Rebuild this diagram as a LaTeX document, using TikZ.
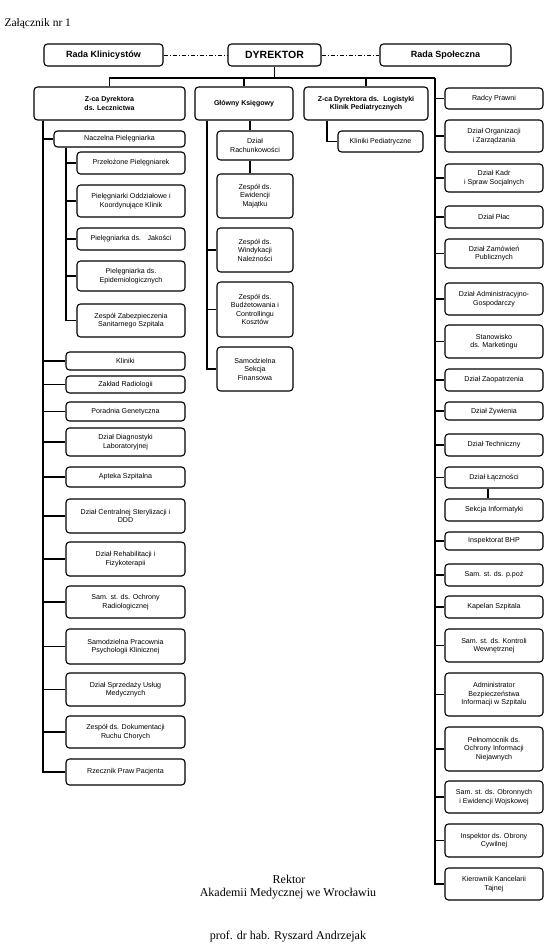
\documentclass[tikz,border=0pt]{standalone}
\usepackage{fontspec}
\setmainfont{Liberation Serif}
\setsansfont{Liberation Sans}
\usepackage{tikz}
\usetikzlibrary{positioning, calc}

\begin{document}
\begin{tikzpicture}[
    x=1pt, y=-1pt,
    box/.style={
        draw, line width=1.1pt, fill=white,
        rectangle, rounded corners=3.5pt,
        inner sep=1pt, align=center,
        font=\fontsize{7.1}{8.5}\selectfont\sffamily
    },
    lbox/.style={box, minimum width=119pt},
    sbox/.style={box, minimum width=108pt},
    mbox/.style={box, minimum width=76pt},
    rbox/.style={box, minimum width=98pt},
    head/.style={box, minimum height=33pt,
        font=\fontsize{7}{8.3}\selectfont\sffamily\bfseries},
    rada/.style={box, minimum height=22pt,
        font=\fontsize{9}{10}\selectfont\sffamily\bfseries},
    link/.style={line width=1.1pt},
    dashdot/.style={line width=1pt, dash pattern=on 4pt off 2pt on 1pt off 2pt},
]
\useasboundingbox (0,0) rectangle (550,951);

\node[anchor=west, font=\fontsize{11.5}{14}\selectfont] (zal) at (1,24) {Załącznik nr 1};

\node[rada, minimum width=119pt] (rklin) at (103.5,55) {Rada Klinicystów};
\node[rada, minimum width=93pt, font=\fontsize{10.5}{12}\selectfont\sffamily\bfseries] (dyr) at (274.5,55) {DYREKTOR};
\node[rada, minimum width=131pt] (rspol) at (445.5,55) {Rada Społeczna};

\node[head, minimum width=151pt] (zlecz) at (109.5,103.5) {Z-ca Dyrektora\\ds. Lecznictwa};
\node[head, minimum width=98pt] (gk) at (244,103.5) {Główny Księgowy};
\node[head, minimum width=124pt] (zlog) at (366,103.5) {Z-ca Dyrektora ds.~ Logistyki\\Klinik Pediatrycznych};

\coordinate (tr) at (435,78);
\coordinate (tl) at (43,0);
\coordinate (tn) at (66,0);
\coordinate (tg) at (207,0);
\coordinate (tk) at (327,0);

% pion lecznictwa
\node[box, minimum width=131pt, minimum height=16pt] (nacz) at (119.5,139) {Naczelna Pielęgniarka};
\node[sbox, minimum height=22pt] (przel) at (131,163) {Przełożone Pielęgniarek};
\node[sbox, minimum height=32pt] (oddz) at (131,201) {Pielęgniarki Oddziałowe i\\Koordynujące Klinik};
\node[sbox, minimum height=22pt] (jakosc) at (131,239) {Pielęgniarka ds.~~ Jakości};
\node[sbox, minimum height=30pt] (epid) at (131,276) {Pielęgniarka ds.\\Epidemiologicznych};
\node[sbox, minimum height=33pt] (sanit) at (131,320.5) {Zespół Zabezpieczenia\\Sanitarnego Szpitala};

\node[lbox, minimum height=18pt] (klin) at (125.5,361) {Kliniki};
\node[lbox, minimum height=17pt] (radiol) at (125.5,384.5) {Zakład Radiologii};
\node[lbox, minimum height=19pt] (genet) at (125.5,411.5) {Poradnia Genetyczna};
\node[lbox, minimum height=28pt] (diagn) at (125.5,442) {Dział Diagnostyki\\Laboratoryjnej};
\node[lbox, minimum height=20pt] (apteka) at (125.5,477) {Apteka Szpitalna};
\node[lbox, minimum height=34pt] (steryl) at (125.5,516) {Dział Centralnej Sterylizacji i\\DDD};
\node[lbox, minimum height=34pt] (rehab) at (125.5,559) {Dział Rehabilitacji i\\Fizykoterapii};
\node[lbox, minimum height=32pt] (ochrad) at (125.5,602) {Sam. st. ds. Ochrony\\Radiologicznej};
\node[lbox, minimum height=35pt] (psych) at (125.5,646.5) {Samodzielna Pracownia\\Psychologii Klinicznej};
\node[lbox, minimum height=33pt] (sprzed) at (125.5,689.5) {Dział Sprzedaży Usług\\Medycznych};
\node[lbox, minimum height=32pt] (dokum) at (125.5,732) {Zespół ds. Dokumentacji\\Ruchu Chorych};
\node[lbox, minimum height=26pt] (rzecz) at (125.5,772) {Rzecznik Praw Pacjenta};

% pion ksiegowego
\node[mbox, minimum height=29pt] (rach) at (255,145.5) {Dział\\Rachunkowości};
\node[mbox, minimum height=44pt] (ewid) at (255,196) {Zespół ds.\\Ewidencji\\Majątku};
\node[mbox, minimum height=44pt] (windyk) at (255,250) {Zespół ds.\\Windykacji\\Należności};
\node[mbox, minimum height=55pt] (budz) at (255,309.5) {Zespół ds.\\Budżetowania i\\Controllingu\\Kosztów};
\node[mbox, minimum height=44pt] (sekfin) at (255,369) {Samodzielna\\Sekcja\\Finansowa};

% pion logistyki
\node[box, minimum width=85pt, minimum height=21pt] (klped) at (380.5,141.5) {Kliniki Pediatryczne};

% komorki podlegle dyrektorowi
\node[rbox, minimum height=21pt] (radcy) at (494,98.5) {Radcy Prawni};
\node[rbox, minimum height=32pt] (organ) at (494,136) {Dział Organizacji\\i Zarządzania};
\node[rbox, minimum height=28pt] (kadr) at (494,178) {Dział Kadr\\i Spraw Socjalnych};
\node[rbox, minimum height=22pt] (plac) at (494,217) {Dział Płac};
\node[rbox, minimum height=29pt] (zamow) at (494,253.5) {Dział Zamówień\\Publicznych};
\node[rbox, minimum height=32pt] (admgos) at (494,299) {Dział Administracyjno-\\Gospodarczy};
\node[rbox, minimum height=33pt] (market) at (494,341.5) {Stanowisko\\ds. Marketingu};
\node[rbox, minimum height=22pt] (zaopat) at (494,380) {Dział Zaopatrzenia};
\node[rbox, minimum height=18pt] (zyw) at (494,411) {Dział Żywienia};
\node[rbox, minimum height=22pt] (techn) at (494,445) {Dział Techniczny};
\node[rbox, minimum height=21pt] (lacz) at (494,477.5) {Dział Łączności};
\node[rbox, minimum height=22pt] (sekinf) at (494,510) {Sekcja Informatyki};
\node[rbox, minimum height=18pt] (bhp) at (494,541) {Inspektorat BHP};
\node[rbox, minimum height=22pt] (ppoz) at (494,575) {Sam. st. ds. p.poż};
\node[rbox, minimum height=22pt] (kapel) at (494,607) {Kapelan Szpitala};
\node[rbox, minimum height=33pt] (kontr) at (494,645.5) {Sam. st. ds. Kontroli\\Wewnętrznej};
\node[rbox, minimum height=43pt] (abi) at (494,694.5) {Administrator\\Bezpieczeństwa\\Informacji w Szpitalu};
\node[rbox, minimum height=44pt] (pelnom) at (494,749) {Pełnomocnik ds.\\Ochrony Informacji\\Niejawnych};
\node[rbox, minimum height=32pt] (obron) at (494,797) {Sam. st. ds. Obronnych\\i Ewidencji Wojskowej};
\node[rbox, minimum height=33pt] (cywil) at (494,840.5) {Inspektor ds. Obrony\\Cywilnej};
\node[rbox, minimum height=32pt] (kanc) at (494,884) {Kierownik Kancelarii\\Tajnej};

\node[font=\fontsize{12}{14}\selectfont] (rektor) at (289,879) {Rektor};
\node[font=\fontsize{12}{14}\selectfont] (akad) at (288,894) {Akademii Medycznej we Wrocławiu};
\node[font=\fontsize{12}{14}\selectfont] (prof) at (288,937) {prof. dr hab. Ryszard Andrzejak};

\draw[dashdot] (rklin) -- (dyr);
\draw[dashdot] (dyr) -- (rspol);
\draw[link] (dyr.south) -- (dyr.south |- tr);
\draw[link] (zlecz.north) |- (tr);
\draw[link] (gk.north) -- (gk.north |- tr);
\draw[link] (zlog.north) -- (zlog.north |- tr);

\draw[link] (zlecz.south -| tl) |- (nacz.west);
\draw[link] (zlecz.south -| tl) |- (klin.west);
\draw[link] (zlecz.south -| tl) |- (radiol.west);
\draw[link] (zlecz.south -| tl) |- (genet.west);
\draw[link] (zlecz.south -| tl) |- (diagn.west);
\draw[link] (zlecz.south -| tl) |- (apteka.west);
\draw[link] (zlecz.south -| tl) |- (steryl.west);
\draw[link] (zlecz.south -| tl) |- (rehab.west);
\draw[link] (zlecz.south -| tl) |- (ochrad.west);
\draw[link] (zlecz.south -| tl) |- (psych.west);
\draw[link] (zlecz.south -| tl) |- (sprzed.west);
\draw[link] (zlecz.south -| tl) |- (dokum.west);
\draw[link] (zlecz.south -| tl) |- (rzecz.west);

\draw[link] (nacz.south -| tn) |- (przel.west);
\draw[link] (nacz.south -| tn) |- (oddz.west);
\draw[link] (nacz.south -| tn) |- (jakosc.west);
\draw[link] (nacz.south -| tn) |- (epid.west);
\draw[link] (nacz.south -| tn) |- (sanit.west);

\draw[link] ([xshift=-5pt]rach.north) -- ([xshift=-5pt]rach.north |- gk.south);
\draw[link] ([xshift=-5pt]rach.south) -- ([xshift=-5pt]ewid.north);
\draw[link] (gk.south -| tg) |- (windyk.west);
\draw[link] (gk.south -| tg) |- (budz.west);
\draw[link] (gk.south -| tg) |- (sekfin.west);

\draw[link] (zlog.south -| tk) |- (klped.west);

\draw[link] (tr) |- (radcy.west);
\draw[link] (tr) |- (organ.west);
\draw[link] (tr) |- (kadr.west);
\draw[link] (tr) |- (plac.west);
\draw[link] (tr) |- (zamow.west);
\draw[link] (tr) |- (admgos.west);
\draw[link] (tr) |- (market.west);
\draw[link] (tr) |- (zaopat.west);
\draw[link] (tr) |- (zyw.west);
\draw[link] (tr) |- (techn.west);
\draw[link] (tr) |- (lacz.west);
\draw[link] ([xshift=-6pt]lacz.south) -- ([xshift=-6pt]sekinf.north);
\draw[link] (tr) |- (bhp.west);
\draw[link] (tr) |- (ppoz.west);
\draw[link] (tr) |- (kapel.west);
\draw[link] (tr) |- (kontr.west);
\draw[link] (tr) |- (abi.west);
\draw[link] (tr) |- (pelnom.west);
\draw[link] (tr) |- (obron.west);
\draw[link] (tr) |- (cywil.west);
\draw[link] (tr) |- (kanc.west);
\end{tikzpicture}
\end{document}
